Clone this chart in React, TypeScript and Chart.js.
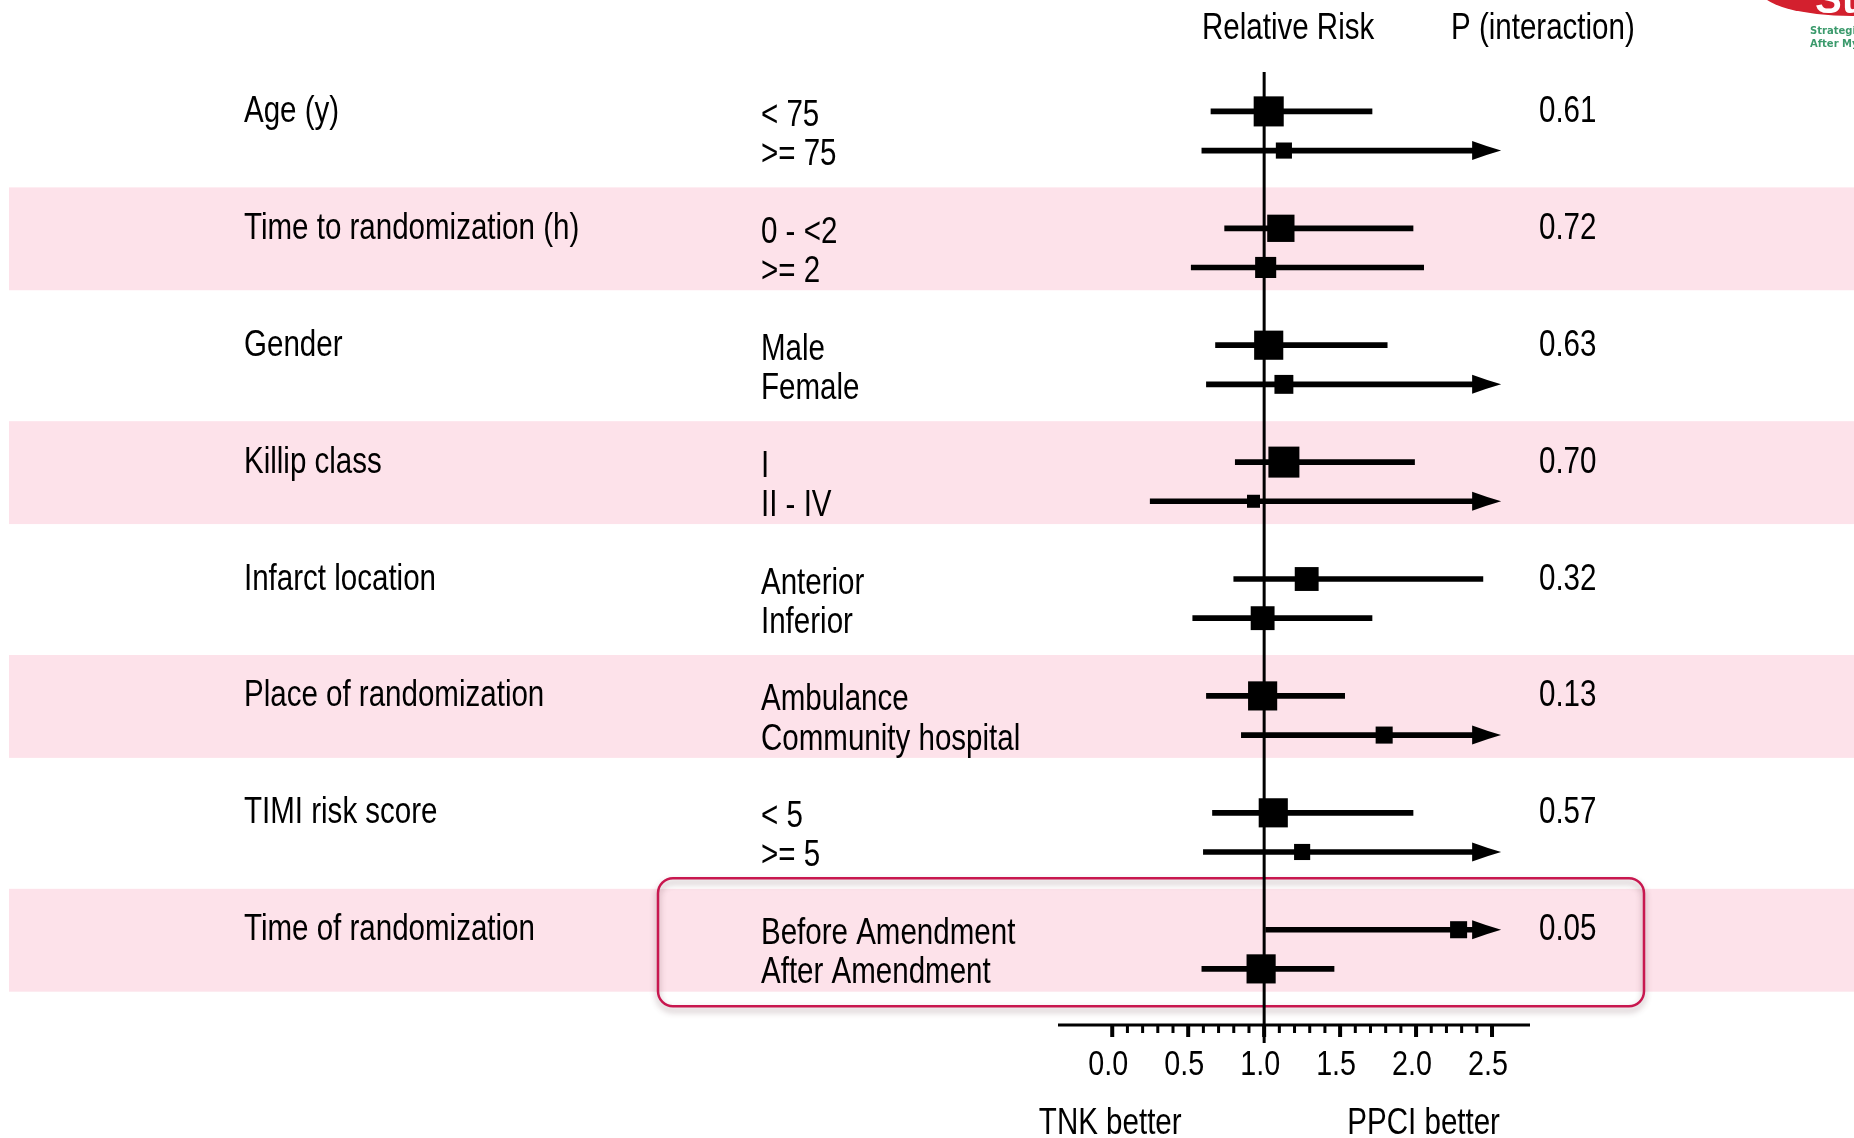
import React, { useEffect, useRef } from 'react';
import { Chart, registerables } from 'chart.js';

Chart.register(...registerables);

// ---- data ----
const categories = [
  'Age (y)',
  'Time to randomization (h)',
  'Gender',
  'Killip class',
  'Infarct location',
  'Place of randomization',
  'TIMI risk score',
  'Time of randomization',
];

const subgroups = [
  ['< 75', '>= 75'],
  ['0 - <2', '>= 2'],
  ['Male', 'Female'],
  ['I', 'II - IV'],
  ['Anterior', 'Inferior'],
  ['Ambulance', 'Community hospital'],
  ['< 5', '>= 5'],
  ['Before Amendment', 'After Amendment'],
];

const relativeRisk = [
  [1.03, 1.13],
  [1.11, 1.01],
  [1.03, 1.13],
  [1.13, 0.93],
  [1.28, 0.99],
  [0.99, 1.79],
  [1.06, 1.25],
  [2.28, 0.98],
];

const ciLower = [
  [0.65, 0.59],
  [0.74, 0.52],
  [0.68, 0.62],
  [0.81, 0.25],
  [0.8, 0.53],
  [0.62, 0.85],
  [0.66, 0.6],
  [1.01, 0.59],
];

// null = upper limit runs off the axis (drawn with an arrow)
const ciUpper: (number | null)[][] = [
  [1.71, null],
  [1.98, 2.05],
  [1.81, null],
  [1.99, null],
  [2.44, 1.71],
  [1.53, null],
  [1.98, null],
  [null, 1.46],
];

// relative subgroup weight (100 = largest box)
const subgroupWeight = [
  [97, 52],
  [88, 68],
  [94, 61],
  [100, 42],
  [77, 77],
  [94, 55],
  [94, 52],
  [55, 94],
];

const pInteraction = ['0.61', '0.72', '0.63', '0.70', '0.32', '0.13', '0.57', '0.05'];

const xTickValues = [0, 0.5, 1, 1.5, 2, 2.5];
const xTickLabels = ['0.0', '0.5', '1.0', '1.5', '2.0', '2.5'];

// ---- layout ----
const W = 1854;
const H = 1138;
const X_MIN = -0.357;
const X_MAX = 2.75;
const Y_MIN = -0.337;
const Y_MAX = 7.815;
const SUB_STEP = 0.335;
const ARROW_TIP = 2.56;
const BOX_MAX_PX = 31;
const CAT_X = 244;
const SUB_X = 761;
const P_X = 1539;
const FONT_PX = 36;

const rowPos = (g: number, s: number) => g + s * SUB_STEP;

let narrowAvailable: boolean | null = null;
function hasNarrow(): boolean {
  if (narrowAvailable !== null) return narrowAvailable;
  const c = document.createElement('canvas').getContext('2d')!;
  const probe = 'abcdefghijklmnopqrstuvwxyz ABCDEFGHIJKLM 0123456789';
  c.font = '40px monospace';
  const base = c.measureText(probe).width;
  c.font = '40px "Liberation Sans Narrow", monospace';
  const w = c.measureText(probe).width;
  narrowAvailable = Math.abs(w - base) > 1;
  return narrowAvailable;
}

function drawText(
  ctx: CanvasRenderingContext2D,
  text: string,
  x: number,
  y: number,
  size: number,
  align: CanvasTextAlign = 'left',
  color = '#000',
) {
  ctx.save();
  ctx.fillStyle = color;
  ctx.textBaseline = 'alphabetic';
  ctx.textAlign = align;
  if (hasNarrow()) {
    ctx.font = `${size}px "Liberation Sans Narrow"`;
    ctx.fillText(text, x, y);
  } else {
    ctx.font = `${size}px "Liberation Sans", Arial, sans-serif`;
    ctx.translate(x, y);
    ctx.scale(0.82, 1);
    ctx.fillText(text, 0, 0);
  }
  ctx.restore();
}

const forestDecor = {
  id: 'forestDecor',
  beforeDatasetsDraw(chart: any) {
    const { ctx, chartArea, scales } = chart;
    const x = scales.x;
    const y = scales.y;
    ctx.save();
    // alternating pink bands
    ctx.fillStyle = '#fde2ea';
    categories.forEach((_, g) => {
      if (g % 2 === 1) {
        const top = y.getPixelForValue(g - 0.35);
        const bottom = y.getPixelForValue(g + 0.53);
        ctx.fillRect(9, top, W - 9, bottom - top);
      }
    });
    // highlight frame around the last group
    const last = categories.length - 1;
    const bt = y.getPixelForValue(last - 0.44);
    const bb = y.getPixelForValue(last + 0.655);
    ctx.save();
    ctx.shadowColor = 'rgba(90,50,60,0.45)';
    ctx.shadowBlur = 6;
    ctx.shadowOffsetY = 4;
    ctx.strokeStyle = '#c8174f';
    ctx.lineWidth = 2.5;
    ctx.beginPath();
    ctx.roundRect(658, bt, 986, bb - bt, 15);
    ctx.stroke();
    ctx.restore();
    // line of no effect
    const x1 = x.getPixelForValue(1);
    ctx.fillStyle = '#000';
    ctx.fillRect(x1 - 1.5, chartArea.top, 3, chartArea.bottom + 18 - chartArea.top);
    ctx.restore();
  },
  afterDatasetsDraw(chart: any) {
    const { ctx, chartArea, scales } = chart;
    const x = scales.x;
    const y = scales.y;
    ctx.save();
    // arrowheads for intervals beyond the axis
    ctx.fillStyle = '#000';
    ciUpper.forEach((pair, g) => {
      pair.forEach((hi, s) => {
        if (hi !== null) return;
        const tip = x.getPixelForValue(ARROW_TIP);
        const py = y.getPixelForValue(rowPos(g, s));
        ctx.beginPath();
        ctx.moveTo(tip - 29, py - 9.5);
        ctx.quadraticCurveTo(tip - 14, py - 4, tip, py);
        ctx.quadraticCurveTo(tip - 14, py + 4, tip - 29, py + 9.5);
        ctx.closePath();
        ctx.fill();
      });
    });

    // headers
    drawText(ctx, 'Relative Risk', 1202, 39, FONT_PX);
    drawText(ctx, 'P (interaction)', 1451, 39, FONT_PX);

    // row labels and p values
    categories.forEach((cat, g) => {
      const p0 = y.getPixelForValue(rowPos(g, 0));
      drawText(ctx, cat, CAT_X, p0 + 10.5, FONT_PX);
      drawText(ctx, pInteraction[g], P_X, p0 + 10.5, FONT_PX);
      subgroups[g].forEach((lab, s) => {
        const ps = y.getPixelForValue(rowPos(g, s));
        drawText(ctx, lab, SUB_X, ps + 14.5, FONT_PX);
      });
    });

    // x axis
    const ay = chartArea.bottom;
    ctx.fillStyle = '#000';
    ctx.fillRect(chartArea.left, ay - 1.5, chartArea.right - chartArea.left, 3);
    for (let i = 0; i <= 25; i++) {
      const px = x.getPixelForValue(i / 10);
      const major = i % 5 === 0;
      ctx.fillRect(px - (major ? 2 : 1.5), ay, major ? 4 : 3, major ? 12 : 8);
    }
    xTickValues.forEach((v, i) => {
      drawText(ctx, xTickLabels[i], x.getPixelForValue(v) - 4, 1075, 35, 'center');
    });
    drawText(ctx, 'TNK better', x.getPixelForValue(0) - 2, 1134, FONT_PX, 'center');
    drawText(ctx, 'PPCI better', x.getPixelForValue(2.05), 1134, FONT_PX, 'center');
    ctx.restore();
  },
  afterDraw(chart: any) {
    const { ctx } = chart;
    ctx.save();
    // trial logo in the corner
    ctx.fillStyle = '#d3202e';
    ctx.beginPath();
    ctx.ellipse(1852, -10, 92, 26, 0, 0, Math.PI * 2);
    ctx.fill();
    ctx.fillStyle = '#ffffff';
    ctx.font = 'bold 40px "Liberation Sans", Arial, sans-serif';
    ctx.textBaseline = 'alphabetic';
    ctx.fillText('Stream', 1815, 13);
    ctx.fillStyle = '#3b9a6c';
    ctx.font = 'bold 10px "DejaVu Sans", sans-serif';
    ctx.fillText('Strategic Reperfusion Early', 1810, 34);
    ctx.fillText('After Myocardial infarction', 1810, 47);
    ctx.restore();
  },
};

export default function App() {
  const ref = useRef<HTMLCanvasElement | null>(null);

  useEffect(() => {
    const canvas = ref.current;
    if (!canvas) return;

    const points: { x: number; y: number }[] = [];
    const sides: number[] = [];
    const bars: { x: [number, number]; y: number }[] = [];
    categories.forEach((_, g) => {
      [0, 1].forEach((s) => {
        const pos = rowPos(g, s);
        points.push({ x: relativeRisk[g][s], y: pos });
        sides.push((subgroupWeight[g][s] / 100) * BOX_MAX_PX);
        const hi = ciUpper[g][s];
        bars.push({ x: [ciLower[g][s], hi === null ? ARROW_TIP - 0.1 : hi], y: pos });
      });
    });

    const chart = new Chart(canvas, {
      type: 'bar',
      data: {
        datasets: [
          {
            type: 'scatter',
            label: 'Relative risk',
            data: points,
            pointStyle: 'rect',
            pointRadius: (c: any) => sides[c.dataIndex] / Math.SQRT2,
            pointBorderWidth: 0,
            backgroundColor: '#000',
            borderColor: '#000',
          } as any,
          {
            type: 'bar',
            label: '95% CI',
            indexAxis: 'y',
            data: bars as any,
            backgroundColor: '#000',
            borderWidth: 0,
            barThickness: 5,
            grouped: false,
          } as any,
        ],
      },
      options: {
        responsive: false,
        animation: false,
        devicePixelRatio: 1,
        layout: { padding: { left: 1058, right: W - 1530, top: 72, bottom: H - 1025 } },
        scales: {
          x: { type: 'linear', min: X_MIN, max: X_MAX, display: false, offset: false },
          y: { type: 'linear', min: Y_MIN, max: Y_MAX, reverse: true, display: false, offset: false },
        },
        plugins: {
          legend: { display: false },
          tooltip: { enabled: false },
          title: { display: false },
        },
        events: [],
      } as any,
      plugins: [forestDecor],
    });

    return () => chart.destroy();
  }, []);

  return (
    <div style={{ position: 'fixed', left: 0, top: 0, width: W, height: H, background: '#fff', overflow: 'hidden' }}>
      <canvas ref={ref} width={W} height={H} style={{ width: W, height: H, display: 'block' }} />
    </div>
  );
}
